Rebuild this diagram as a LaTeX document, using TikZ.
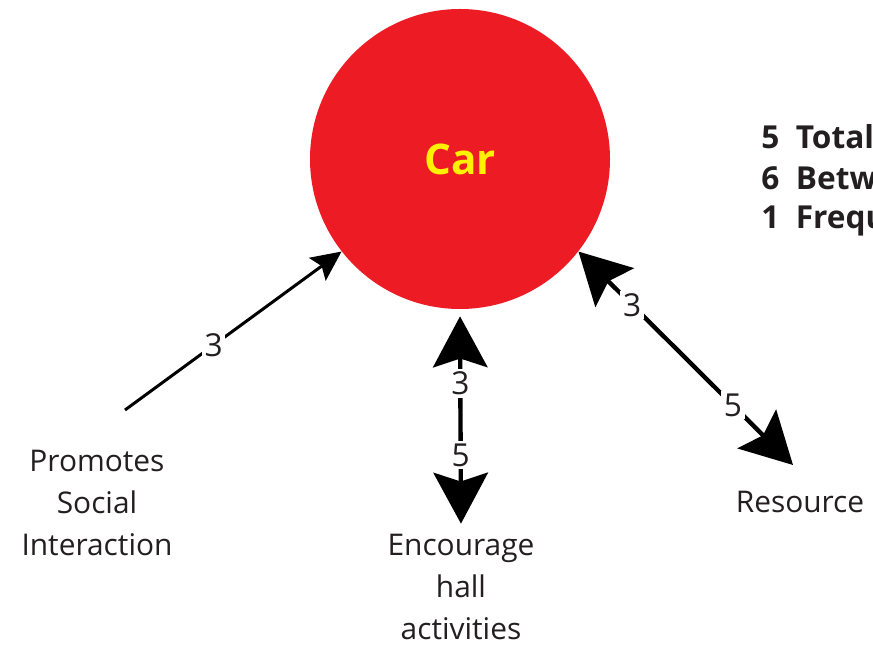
\documentclass[tikz,border=0pt]{standalone}
\usepackage{fontspec}
\setmainfont{Open Sans}
\usepackage{tikz}
\usetikzlibrary{arrows.meta, positioning, calc}
\definecolor{cRed}{RGB}{237,28,36}
\definecolor{cYellow}{RGB}{255,242,0}
\definecolor{cInk}{RGB}{35,31,32}
\tikzset{
	hub/.style      ={circle, fill=cRed, minimum size=6cm, inner sep=0pt, font=\fontsize{24}{30}\selectfont\bfseries, text=cYellow},
	factor/.style   ={align=center, text=cInk, font=\fontsize{17}{24}\selectfont, inner sep=0pt},
	legend/.style   ={anchor=west, text=cInk, font=\fontsize{18}{24}\selectfont\bfseries, inner sep=0pt},
	wt/.style       ={fill=white, text=cInk, font=\fontsize{18}{20}\selectfont, inner sep=1.5pt},
	oneway/.style   ={-{Stealth[length=17pt, width=16pt, inset=3pt]}, line width=1.7pt, black},
	twoway/.style   ={{Stealth[length=29pt, width=31pt, inset=5pt]}-{Stealth[length=29pt, width=31pt, inset=5pt]}, line width=2.5pt, black},
}

\begin{document}
\begin{tikzpicture}
	\useasboundingbox (0,0) rectangle (17.46,12.9);
	% ---------- centre ----------
	\node[hub] (car) at (9.2,9.72) {Car};
	% ---------- legend ----------
	\node[legend] (lTotal) at (15.22,10.16) {5\ \ Total};
	\node[legend] (lBetw)  at (15.22,9.34)  {6\ \ Betw};
	\node[legend] (lFreq)  at (15.22,8.48)  {1\ \ Frequ};
	% ---------- factors ----------
	\node[factor] (promo) at (1.94,2.84) {Promotes\\Social\\Interaction};
	\node[factor] (hall)  at (9.22,1.16) {Encourage\\hall\\activities};
	\node[factor] (res)   at (16.0,2.86) {Resource};
	\coordinate (promoEnd) at (2.5,4.7);
	\coordinate (resEnd)   at (15.86,3.6);
	% ---------- links ----------
	\draw[oneway] (promoEnd) -- (car.218.7) node[wt, pos=0.41] {3};
	\draw[twoway, shorten <=0.14cm, shorten >=0.2cm] (car.south) -- (hall.north)
		node[wt, pos=0.33] {3} node[wt, pos=0.65] {5};
	\draw[twoway] (car.-38) -- (resEnd)
		node[wt, pos=0.25] {3} node[wt, pos=0.72] {5};
\end{tikzpicture}
\end{document}
